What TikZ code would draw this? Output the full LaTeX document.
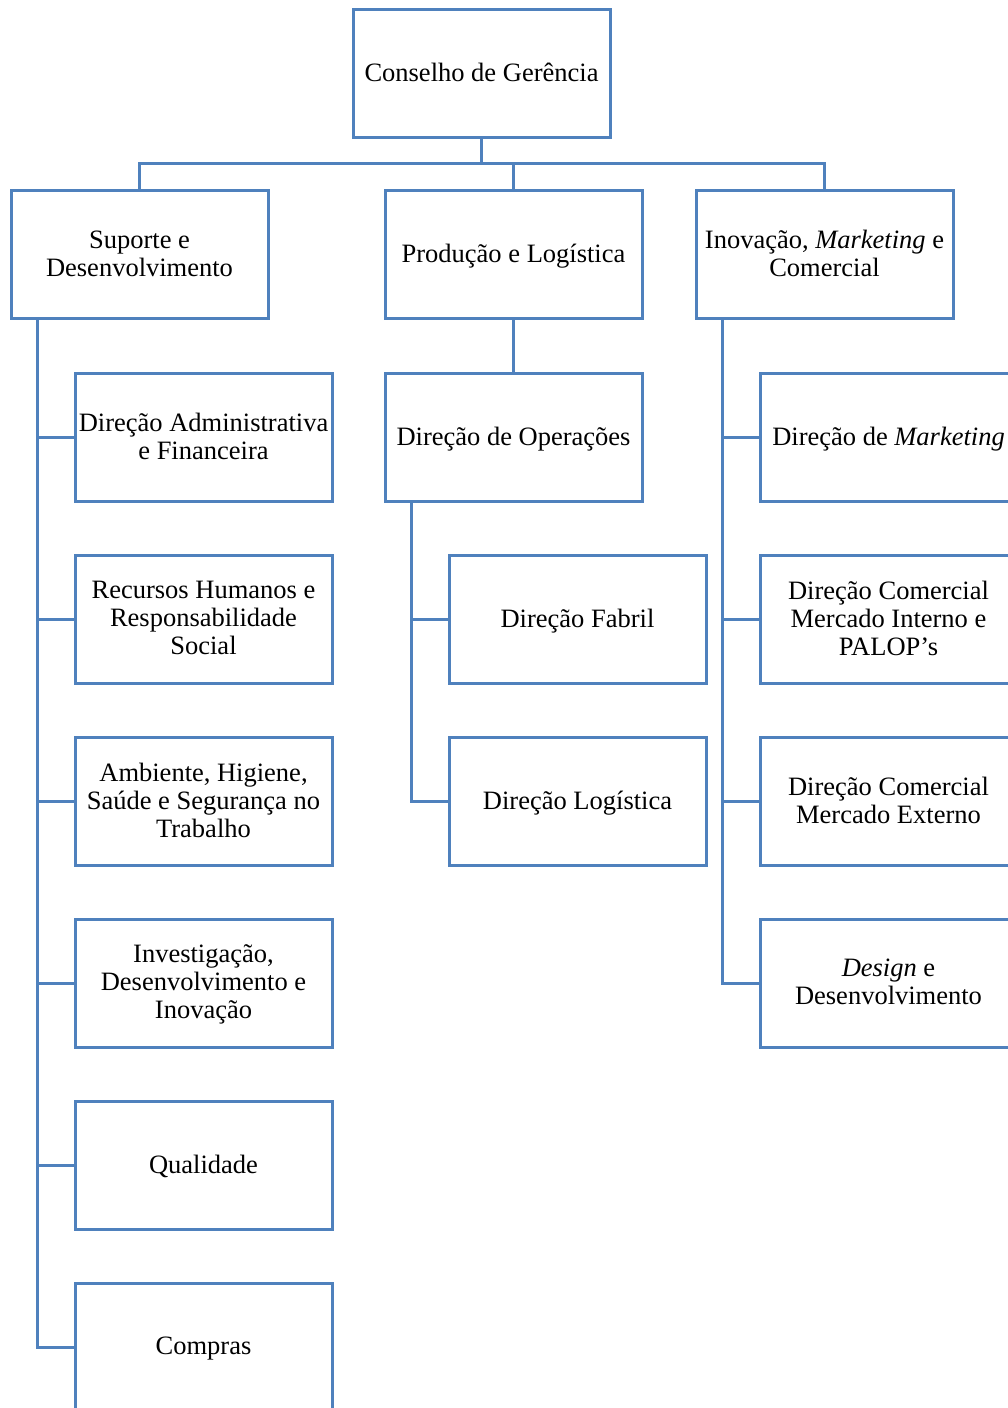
\documentclass[tikz,border=0pt]{standalone}
\usepackage{fontspec}
\setmainfont{Liberation Serif}
\usetikzlibrary{positioning}

\definecolor{orgblue}{RGB}{79,129,189}

\begin{document}
\begin{tikzpicture}[x=1pt,y=-1pt,node distance=182pt,
    every node/.style={font=\fontsize{26.5}{28}\selectfont},
    unit/.style={draw=orgblue,line width=3pt,fill=white,rectangle,minimum width=257pt,minimum height=128pt,align=center,inner sep=0pt,text depth=2pt},
    link/.style={draw=orgblue,line width=3pt}]
  \useasboundingbox (0,0) rectangle (1008,1408);
  \clip (0,0) rectangle (1008,1408);

  % topo
  \node[unit] (cg)   at (481.5,73)   {Conselho de Gerência};
  \node[unit] (sup)  at (139.5,254.5) {Suporte e\\Desenvolvimento};
  \node[unit] (prod) at (513.5,254.5) {Produção e Logística};
  \node[unit] (inov) at (824.5,254.5) {Inovação, \textit{Marketing} e\\Comercial};
  \coordinate (bus) at (481.5,163);

  % suporte
  \node[unit] (daf)  at (203.5,437) {Direção Administrativa\\e Financeira};
  \node[unit] (rh)   [below of=daf] {Recursos Humanos e\\Responsabilidade\\Social};
  \node[unit] (ahs)  [below of=rh]  {Ambiente, Higiene,\\Saúde e Segurança no\\Trabalho};
  \node[unit] (idi)  [below of=ahs] {Investigação,\\Desenvolvimento e\\Inovação};
  \node[unit] (qual) [below of=idi] {Qualidade};
  \node[unit] (comp) [below of=qual] {Compras};

  % producao
  \node[unit] (dop)  at (513.5,437) {Direção de Operações};
  \node[unit] (dfab) at (577.5,619) {Direção Fabril};
  \node[unit] (dlog) [below of=dfab] {Direção Logística};

  % inovacao
  \node[unit] (dmk)  at (888.5,437) {Direção de \textit{Marketing}};
  \node[unit] (dcmi) [below of=dmk]  {Direção Comercial\\Mercado Interno e\\PALOP’s};
  \node[unit] (dcme) [below of=dcmi] {Direção Comercial\\Mercado Externo};
  \node[unit] (des)  [below of=dcme] {\textit{Design} e\\Desenvolvimento};

  \path[link] (cg.south) -- (bus)
              (sup.north) |- (bus) -| (inov.north)
              (prod.north) -- (prod.north |- bus)
              (prod) -- (dop);

  \foreach \c in {daf,rh,ahs,idi,qual,comp}
    \draw[link] ([xshift=27.5pt]sup.south west) |- (\c.west);
  \foreach \c in {dfab,dlog}
    \draw[link] ([xshift=27.5pt]dop.south west) |- (\c.west);
  \foreach \c in {dmk,dcmi,dcme,des}
    \draw[link] ([xshift=27.5pt]inov.south west) |- (\c.west);
\end{tikzpicture}
\end{document}
